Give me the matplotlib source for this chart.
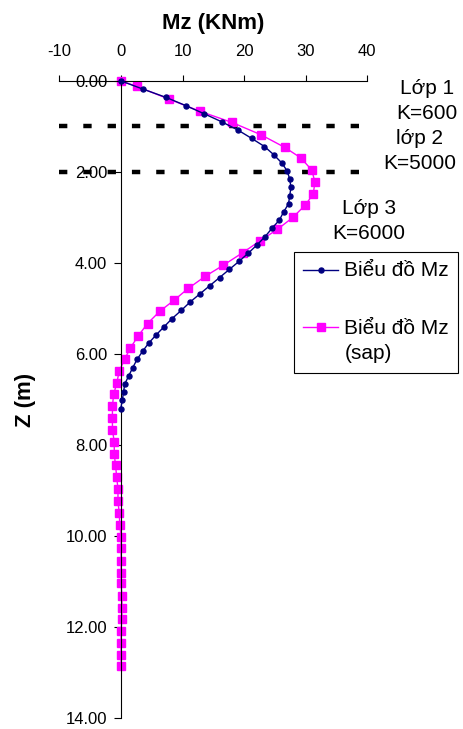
import numpy as np
import matplotlib
matplotlib.use('Agg')
import matplotlib.pyplot as plt
from matplotlib.ticker import FormatStrFormatter

plt.rcParams['font.family'] = ['Liberation Sans', 'DejaVu Sans']
plt.rcParams['lines.scale_dashes'] = False
plt.rcParams['axes.unicode_minus'] = False

# Mz diagram (calc), depth step 0.18 m
z_mz = [0.18 * i for i in range(41)]
mz = [0, 3.6, 7.3, 10.5, 13.5, 16.4, 19.0, 21.2, 23.3, 24.8,
      26.1, 27.0, 27.4, 27.6, 27.4, 27.2, 26.4, 25.7, 24.5, 23.4,
      22.1, 20.7, 19.2, 17.6, 16.0, 14.4, 12.8, 11.2, 9.8, 8.3,
      7.0, 5.7, 4.5, 3.5, 2.6, 1.9, 1.25, 0.6, 0.4, 0.2, -0.05]

# Mz diagram (sap)
z_sap = [0, 0.12, 0.40, 0.67, 0.91, 1.18, 1.46, 1.69, 1.96, 2.23,
         2.49, 2.73, 3.00, 3.26, 3.51, 3.77, 4.05, 4.29, 4.56, 4.82,
         5.06, 5.33, 5.60, 5.87, 6.11, 6.38, 6.64, 6.89, 7.14, 7.40,
         7.66, 7.94, 8.20, 8.45, 8.71, 8.97, 9.24, 9.49, 9.75, 10.02,
         10.27, 10.54, 10.81, 11.03, 11.32, 11.58, 11.82, 12.08, 12.36, 12.62,
         12.86]
mz_sap = [0, 2.6, 7.8, 12.9, 18.0, 22.7, 26.6, 29.2, 31.0, 31.5,
          31.2, 29.9, 27.9, 25.4, 22.6, 19.8, 16.6, 13.7, 10.9, 8.6,
          6.3, 4.3, 2.8, 1.5, 0.6, -0.3, -0.7, -1.2, -1.4, -1.4,
          -1.4, -1.1, -1.1, -0.9, -0.7, -0.5, -0.5, -0.3, -0.2, 0,
          0, 0, 0, 0, 0.15, 0.15, 0.15, 0, 0, 0,
          0]

# soil layer boundaries
layer_z = [1.0, 2.0]
layer_x = [-10, 39]
layer_text = ['Lớp 1\nK=600', 'lớp 2\nK=5000', 'Lớp 3\nK=6000']
layer_text_pos = [(49.7, 0.44), (48.5, 1.54), (40.3, 3.07)]

fig = plt.figure(figsize=(4.64, 7.29), dpi=100)
ax = fig.add_axes([0.1282, 0.0151, 0.6634, 0.8738])

for zb in layer_z:
    ax.plot(layer_x, [zb, zb], color='black', lw=3.2, dashes=(6, 11.5),
            dash_capstyle='butt', clip_on=False, zorder=1)

ax.plot(mz, z_mz, color='#000080', lw=1.0, marker='o', ms=3.6,
        label='Biểu đồ Mz', clip_on=False, zorder=3)
ax.plot(mz_sap, z_sap, color='#FF00FF', lw=1.0, marker='s', ms=5.4,
        label='Biểu đồ Mz\n(sap)', clip_on=False, zorder=2)

for txt, (tx, tz) in zip(layer_text, layer_text_pos):
    ax.text(tx, tz, txt, ha='center', va='center', fontsize=15,
            linespacing=1.42, clip_on=False)

ax.set_xlim(-10, 40)
ax.set_ylim(14, 0)
ax.set_xticks(np.arange(-10, 41, 10))
ax.set_yticks(np.arange(0, 15, 2))
ax.yaxis.set_major_formatter(FormatStrFormatter('%.2f'))

ax.spines['right'].set_visible(False)
ax.spines['bottom'].set_visible(False)
ax.spines['left'].set_position(('data', 0))
for s in ['left', 'top']:
    ax.spines[s].set_linewidth(0.8)

ax.xaxis.tick_top()
ax.xaxis.set_label_position('top')
ax.tick_params(axis='x', direction='out', length=4, width=0.8, pad=11.5, labelsize=12)
ax.tick_params(axis='y', direction='out', length=5, width=0.8, pad=5, labelsize=12)

ax.set_xlabel('Mz (KNm)', fontsize=16, fontweight='bold')
ax.xaxis.set_label_coords(0.5, 1.091)
ax.xaxis.label.set_va('center')
ax.set_ylabel('Z (m)', fontsize=16, fontweight='bold')
ax.yaxis.set_label_coords(-0.11, 0.5)
ax.yaxis.label.set_va('center')

leg = ax.legend(loc='upper left', bbox_to_anchor=(294 / 464, 1 - 252 / 729),
                bbox_transform=fig.transFigure, fontsize=15, frameon=True,
                fancybox=False, framealpha=1, edgecolor='black',
                handlelength=1.67, handletextpad=0.3, borderpad=0.45,
                labelspacing=1.85, borderaxespad=0, handleheight=1.0)
leg.get_frame().set_linewidth(0.8)
for t in leg.get_texts():
    t.set_linespacing(1.42)
# keep the marker on the first line of a two-line label
for col in leg._legend_handle_box.get_children():
    for item in col.get_children():
        item.align = 'top'

fig.savefig('out.png', dpi=100)
